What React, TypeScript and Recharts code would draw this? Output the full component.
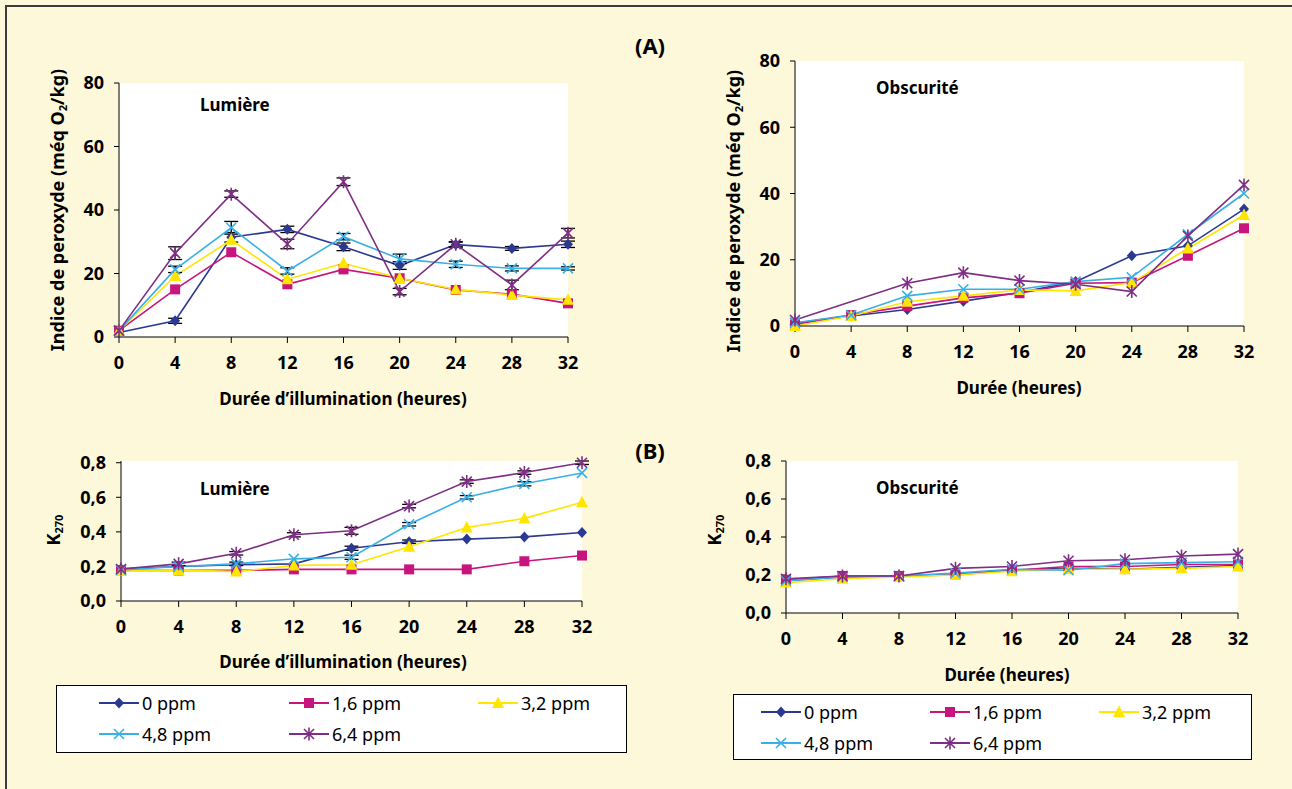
import React from "react";
import { LineChart, Line, XAxis, YAxis, CartesianGrid, ErrorBar } from "recharts";

const FONT = '"Noto Sans", "Open Sans", sans-serif';
const BG = "#FEF8DA";

// durée (heures)
const hours = [0, 4, 8, 12, 16, 20, 24, 28, 32];
const peroxTicks = [0, 20, 40, 60, 80];
const kTicks = [0, 0.2, 0.4, 0.6, 0.8];

// (A) indice de peroxyde, lumière
const aLum0 = [1.4, 5.1, 31.4, 33.9, 28.4, 22.5, 29.1, 27.9, 29.2];
const aLum16 = [2, 15.0, 26.7, 16.6, 21.3, 18.5, 14.8, 13.5, 10.6];
const aLum32 = [2, 19.2, 30.6, 18.2, 23.2, 18.5, 15.0, 13.2, 11.7];
const aLum48 = [2, 21.3, 34.4, 20.8, 31.6, 24.6, 22.9, 21.6, 21.6];
const aLum64 = [2, 26.4, 45.0, 29.3, 48.9, 14.3, 29.2, 16.4, 32.7];
const aLumErr0 = [0, 0.8, 1.5, 1, 1.2, 1.2, 0.8, 0.6, 1];
const aLumErr48 = [0, 1, 2, 1, 1, 1.5, 1, 0.8, 0.5];
const aLumErr64 = [0, 2, 1, 1.5, 1.2, 1, 0.8, 1.5, 1.5];

// (A) indice de peroxyde, obscurité
const aObs0 = [0.8, 3.0, 5.0, 7.5, 10.1, 13.4, 21.2, 24.2, 35.3];
const aObs16 = [0.5, 3.3, 6.0, 8.5, 9.9, 12.9, 13.1, 21.2, 29.5];
const aObs32 = [0, 3.0, 7.3, 9.1, 10.9, 10.6, 13.1, 23.4, 33.5];
const aObs48 = [1.0, 3.3, 9.1, 11.1, 11.1, 13.4, 14.7, 27.7, 40.0];
const aObs64 = [1.8, null, 12.9, 16.1, 13.7, 12.6, 10.4, 27.2, 42.6];

// (B) K270, lumière
const bLum0 = [0.187, 0.2, 0.21, 0.215, 0.305, 0.343, 0.358, 0.371, 0.396];
const bLum16 = [0.177, 0.177, 0.177, 0.183, 0.183, 0.183, 0.183, 0.23, 0.263];
const bLum32 = [0.173, 0.18, 0.17, 0.206, 0.21, 0.314, 0.425, 0.478, 0.571];
const bLum48 = [0.18, 0.2, 0.215, 0.244, 0.253, 0.444, 0.6, 0.678, 0.741];
const bLum64 = [0.185, 0.215, 0.276, 0.383, 0.406, 0.549, 0.691, 0.743, 0.8];
const bLumErr0 = [0, 0, 0, 0, 0.012, 0.01, 0, 0, 0];
const bLumErr48 = [0, 0, 0.01, 0, 0.012, 0.01, 0.01, 0.012, 0];
const bLumErr64 = [0, 0.01, 0.01, 0.012, 0.02, 0.01, 0.01, 0.01, 0.01];

// (B) K270, obscurité
const bObs0 = [0.17, 0.19, 0.195, 0.205, 0.225, 0.235, 0.23, 0.24, 0.25];
const bObs16 = [0.175, 0.195, 0.195, 0.2, 0.225, 0.245, 0.245, 0.255, 0.255];
const bObs32 = [0.16, 0.18, 0.19, 0.2, 0.22, 0.23, 0.23, 0.235, 0.245];
const bObs48 = [0.17, 0.19, 0.195, 0.21, 0.23, 0.225, 0.26, 0.265, 0.27];
const bObs64 = [0.18, 0.195, 0.195, 0.235, 0.245, 0.275, 0.28, 0.3, 0.31];

const series = [
  { key: "s0", name: "0 ppm", color: "#2B3990", shape: "diamond" },
  { key: "s16", name: "1,6 ppm", color: "#C8157E", shape: "square" },
  { key: "s32", name: "3,2 ppm", color: "#FFE500", shape: "triangle" },
  { key: "s48", name: "4,8 ppm", color: "#3AAFE6", shape: "x" },
  { key: "s64", name: "6,4 ppm", color: "#7E2E84", shape: "star" },
];

function rows(vals: (number | null)[][], errs: Record<string, number[]> = {}) {
  return hours.map((t, i) => {
    const r: any = { t };
    series.forEach((s, j) => {
      r[s.key] = vals[j][i];
      if (errs[s.key]) r["e" + s.key] = errs[s.key][i];
    });
    return r;
  });
}

const dataALum = rows([aLum0, aLum16, aLum32, aLum48, aLum64], { s0: aLumErr0, s48: aLumErr48, s64: aLumErr64 });
const dataAObs = rows([aObs0, aObs16, aObs32, aObs48, aObs64]);
const dataBLum = rows([bLum0, bLum16, bLum32, bLum48, bLum64], { s0: bLumErr0, s48: bLumErr48, s64: bLumErr64 });
const dataBObs = rows([bObs0, bObs16, bObs32, bObs48, bObs64]);

function Marker({ shape, cx, cy, color }: any) {
  switch (shape) {
    case "diamond":
      return <polygon points={`${cx},${cy - 5.5} ${cx + 5},${cy} ${cx},${cy + 5.5} ${cx - 5},${cy}`} fill={color} />;
    case "square":
      return <rect x={cx - 5} y={cy - 5} width={10} height={10} fill={color} />;
    case "triangle":
      return <polygon points={`${cx},${cy - 6.5} ${cx + 6},${cy + 5} ${cx - 6},${cy + 5}`} fill={color} />;
    case "x":
      return (
        <path d={`M${cx - 5},${cy - 5}L${cx + 5},${cy + 5}M${cx - 5},${cy + 5}L${cx + 5},${cy - 5}`}
          stroke={color} strokeWidth={1.6} fill="none" />
      );
    default:
      return (
        <path d={`M${cx - 5},${cy - 5}L${cx + 5},${cy + 5}M${cx - 5},${cy + 5}L${cx + 5},${cy - 5}M${cx},${cy - 6.5}L${cx},${cy + 6.5}`}
          stroke={color} strokeWidth={1.6} fill="none" />
      );
  }
}

const tickStyle = { fill: "#000", fontSize: 18, fontWeight: 700, fontFamily: FONT };

function Panel({ x, y, w, yW, mt, plotH, data, domain, ticks, fmt, errs }: any) {
  return (
    <div style={{ position: "absolute", left: x, top: y }}>
      <LineChart width={w} height={mt + plotH + 45} data={data} margin={{ top: mt, right: 30, left: 0, bottom: 0 }}>
        <CartesianGrid fill="#fff" horizontal={false} vertical={false} stroke="none" />
        <XAxis dataKey="t" type="number" domain={[0, 32]} ticks={hours} interval={0} height={45}
          stroke="#000" tickSize={6} tickMargin={13} tick={tickStyle} />
        <YAxis type="number" width={yW} domain={domain} ticks={ticks} interval={0} tickFormatter={fmt}
          stroke="#000" tickSize={5} tickMargin={10} tick={tickStyle} />
        {series.map((s) => (
          <Line key={s.key} dataKey={s.key} stroke={s.color} strokeWidth={1.6} connectNulls
            isAnimationActive={false} activeDot={false}
            dot={(p: any) =>
              p.cx == null || p.cy == null || p.value == null ? (
                <g key={s.key + p.index} />
              ) : (
                <g key={s.key + p.index}>
                  <Marker shape={s.shape} cx={p.cx} cy={p.cy} color={s.color} />
                </g>
              )
            }>
            {errs && errs.includes(s.key) ? (
              <ErrorBar dataKey={"e" + s.key} width={7} strokeWidth={1.3} stroke="#000" direction="y" />
            ) : null}
          </Line>
        ))}
      </LineChart>
    </div>
  );
}

function Txt({ x, y, size = 17, bold = true, rotate = false, left = false, children }: any) {
  return (
    <div style={{
      position: "absolute", left: x, top: y, whiteSpace: "nowrap", fontFamily: FONT,
      fontSize: size, fontWeight: bold ? 700 : 400, color: "#000", lineHeight: 1,
      transform: `translate(${left ? "0" : "-50%"}, -50%)${rotate ? " rotate(-90deg)" : ""}`,
    }}>
      {children}
    </div>
  );
}

function Legend({ x, y, w, h, cols }: any) {
  return (
    <div style={{ position: "absolute", left: x, top: y, width: w, height: h, background: "#fff",
      border: "1.5px solid #000", boxSizing: "border-box" }}>
      {series.map((s, i) => {
        const col = cols[i < 3 ? i : i - 3];
        const rowY = i < 3 ? 17 : 48;
        return (
          <div key={s.key} style={{ position: "absolute", left: col, top: rowY - 9, height: 18, display: "flex", alignItems: "center" }}>
            <svg width={40} height={18} style={{ display: "block" }}>
              <line x1={0} y1={9} x2={40} y2={9} stroke={s.color} strokeWidth={2} />
              <Marker shape={s.shape} cx={20} cy={9} color={s.color} />
            </svg>
            <span style={{ marginLeft: 3, fontFamily: FONT, fontSize: 18, lineHeight: 1, color: "#000" }}>{s.name}</span>
          </div>
        );
      })}
    </div>
  );
}

const kFmt = (v: number) => v.toFixed(1).replace(".", ",");
const sub = { fontSize: 11, verticalAlign: "-0.25em" };

export default function App() {
  return (
    <div style={{ position: "absolute", left: 0, top: 0, width: 1292, height: 789, background: BG, overflow: "hidden" }}>
      <div style={{ position: "absolute", left: 5, top: 5, width: 1400, height: 900, border: "2px solid #3c3c3c" }} />

      <Txt x={650} y={45} size={22}>(A)</Txt>
      <Txt x={650} y={450} size={22}>(B)</Txt>

      <Panel x={0} y={0} w={598} yW={119} mt={83} plotH={254} data={dataALum} domain={[0, 80]} ticks={peroxTicks}
        errs={["s0", "s48", "s64"]} />
      <Panel x={650} y={0} w={624} yW={145} mt={61} plotH={265} data={dataAObs} domain={[0, 80]} ticks={peroxTicks} />
      <Panel x={0} y={420} w={612} yW={121} mt={41} plotH={140} data={dataBLum} domain={[0, 0.8]} ticks={kTicks}
        fmt={kFmt} errs={["s0", "s48", "s64"]} />
      <Panel x={650} y={420} w={618} yW={136} mt={41} plotH={152} data={dataBObs} domain={[0, 0.8]} ticks={kTicks}
        fmt={kFmt} />

      <Txt x={200} y={104} left>Lumière</Txt>
      <Txt x={876} y={87} left>Obscurité</Txt>
      <Txt x={200} y={488} left>Lumière</Txt>
      <Txt x={876} y={487} left>Obscurité</Txt>

      <Txt x={58} y={210} size={18} rotate>Indice de peroxyde (méq O<span style={sub}>2</span>/kg)</Txt>
      <Txt x={734} y={211} size={18} rotate>Indice de peroxyde (méq O<span style={sub}>2</span>/kg)</Txt>
      <Txt x={54} y={530} size={18} rotate>K<span style={sub}>270</span></Txt>
      <Txt x={715} y={530} size={18} rotate>K<span style={sub}>270</span></Txt>

      <Txt x={343} y={398}>Durée d’illumination (heures)</Txt>
      <Txt x={1019} y={387}>Durée (heures)</Txt>
      <Txt x={343} y={661}>Durée d’illumination (heures)</Txt>
      <Txt x={1007} y={674}>Durée (heures)</Txt>

      <Legend x={56} y={685} w={571} h={68} cols={[42, 232, 421]} />
      <Legend x={733} y={694} w={519} h={66} cols={[27, 196, 365]} />
    </div>
  );
}
